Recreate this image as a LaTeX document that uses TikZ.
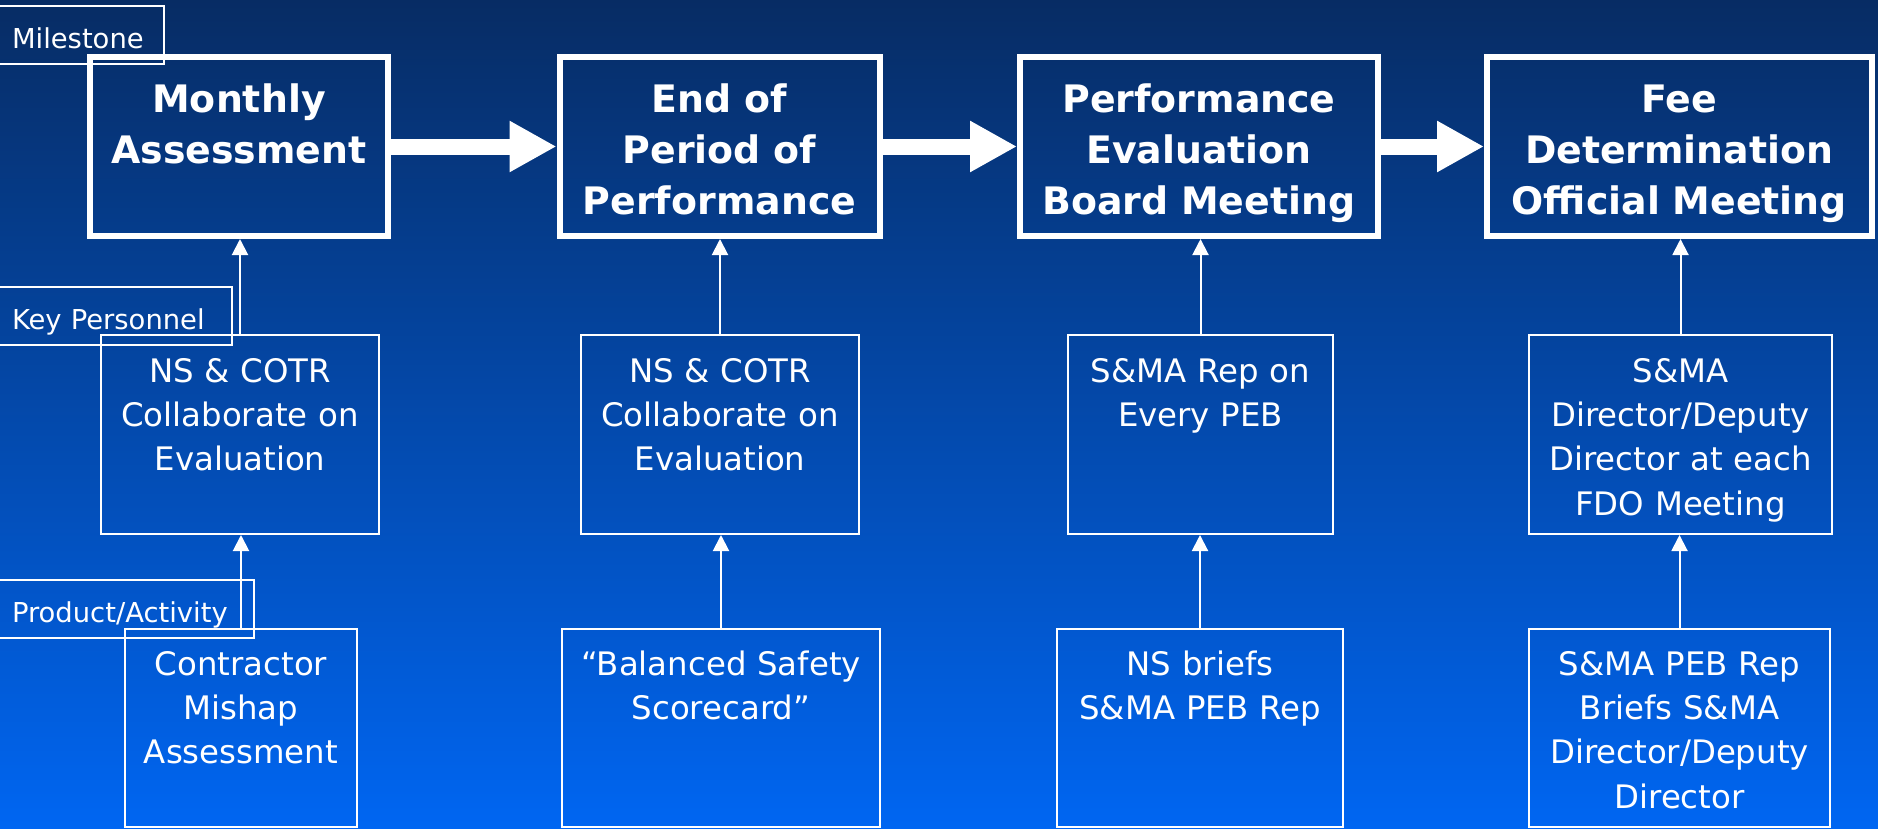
\documentclass[tikz,border=0pt]{standalone}
\usepackage{fontspec}
\setmainfont{DejaVu Sans}
\usetikzlibrary{arrows.meta}
\definecolor{bgtop}{RGB}{7,44,100}
\definecolor{bgbot}{RGB}{0,102,242}
\begin{document}
\begin{tikzpicture}[x=1bp,y=-1bp,
  topbox/.style={draw=white, line width=6bp, minimum height=179bp, inner sep=0pt},
  midbox/.style={draw=white, line width=2bp, minimum height=199bp, inner sep=0pt},
  botbox/.style={draw=white, line width=2bp, minimum height=198bp, inner sep=0pt},
  toptext/.style={text=white, font=\bfseries\fontsize{38}{51.5}\selectfont, align=center, text width=420bp, inner sep=0pt, anchor=base},
  midtext/.style={text=white, font=\fontsize{32.5}{44.5}\selectfont, align=center, text width=420bp, inner sep=0pt, anchor=base},
  lbl/.style={draw=white, line width=2bp, text=white, font=\fontsize{27.5}{33}\selectfont, anchor=north west, outer sep=0pt, inner xsep=13bp, inner ysep=2bp, align=left, minimum height=58bp, text height=26bp, text depth=0bp},
  bigarrow/.style={draw=white, line width=16bp, -{Triangle[length=47bp, width=48bp]}},
  conn/.style={draw=white, line width=2bp, -{Triangle[length=16bp, width=16bp]}}
]
\useasboundingbox (0,0) rectangle (1878,829);
\shade[top color=bgtop, bottom color=bgbot] (0,0) rectangle (1878,829);

% top row (milestones)
\node[topbox, minimum width=298bp] (b1) at (239,146.5) {};
\node[topbox, minimum width=320bp] (b2) at (719.5,146.5) {};
\node[topbox, minimum width=358bp] (b3) at (1199,146.5) {};
\node[topbox, minimum width=384.5bp] (b4) at (1679.25,146.5) {};
\node[toptext] (t1) at ([yshift=-58bp]b1.north) {Monthly\\Assessment};
\node[toptext] (t2) at ([yshift=-58bp]b2.north) {End of\\Period of\\Performance};
\node[toptext] (t3) at ([yshift=-58bp]b3.north) {Performance\\Evaluation\\Board Meeting};
\node[toptext] (t4) at ([yshift=-58bp]b4.north) {Fee\\Determination\\Official Meeting};

% middle row (key personnel)
\node[midbox, minimum width=278bp] (m1) at (240,434.5) {};
\node[midbox, minimum width=278bp] (m2) at (720,434.5) {};
\node[midbox, minimum width=265bp] (m3) at (1200.5,434.5) {};
\node[midbox, minimum width=303bp] (m4) at (1680.5,434.5) {};
\node[midtext] (mt1) at ([yshift=-48bp]m1.north) {NS \& COTR\\Collaborate on\\Evaluation};
\node[midtext] (mt2) at ([yshift=-48bp]m2.north) {NS \& COTR\\Collaborate on\\Evaluation};
\node[midtext] (mt3) at ([yshift=-48bp]m3.north) {S\&MA Rep on\\Every PEB};
\node[midtext] (mt4) at ([yshift=-48bp]m4.north) {S\&MA\\Director/Deputy\\Director at each\\FDO Meeting};

% bottom row (products/activities)
\node[botbox, minimum width=232bp] (p1) at (241,728) {};
\node[botbox, minimum width=318bp] (p2) at (721,728) {};
\node[botbox, minimum width=286bp] (p3) at (1200,728) {};
\node[botbox, minimum width=301bp] (p4) at (1679.5,728) {};
\node[midtext] (pt1) at ([yshift=-47bp]p1.north) {Contractor\\Mishap\\Assessment};
\node[midtext] (pt2) at ([yshift=-47bp]p2.north) {“Balanced Safety\\Scorecard”};
\node[midtext] (pt3) at ([yshift=-47bp]p3.north) {NS briefs\\S\&MA PEB Rep};
\node[midtext] (pt4) at ([yshift=-47bp]p4.north) {S\&MA PEB Rep\\Briefs S\&MA\\Director/Deputy\\Director};

% row labels
\node[lbl, text width=139bp] (l1) at (-1,6) {Milestone};
\node[lbl, text width=207bp] (l2) at (-1,287) {Key Personnel};
\node[lbl, text width=229bp] (l3) at (-1,580) {Product/Activity};

% big arrows between milestones
\draw[bigarrow] (b1.east) -- (b2.west);
\draw[bigarrow] (b2.east) -- (b3.west);
\draw[bigarrow] (b3.east) -- (b4.west);

% vertical connectors
\draw[conn] (m1.north) -- (m1.north |- b1.south);
\draw[conn] (m2.north) -- (m2.north |- b2.south);
\draw[conn] (m3.north) -- (m3.north |- b3.south);
\draw[conn] (m4.north) -- (m4.north |- b4.south);
\draw[conn] (p1.north) -- (p1.north |- m1.south);
\draw[conn] (p2.north) -- (p2.north |- m2.south);
\draw[conn] (p3.north) -- (p3.north |- m3.south);
\draw[conn] (p4.north) -- (p4.north |- m4.south);
\end{tikzpicture}
\end{document}
